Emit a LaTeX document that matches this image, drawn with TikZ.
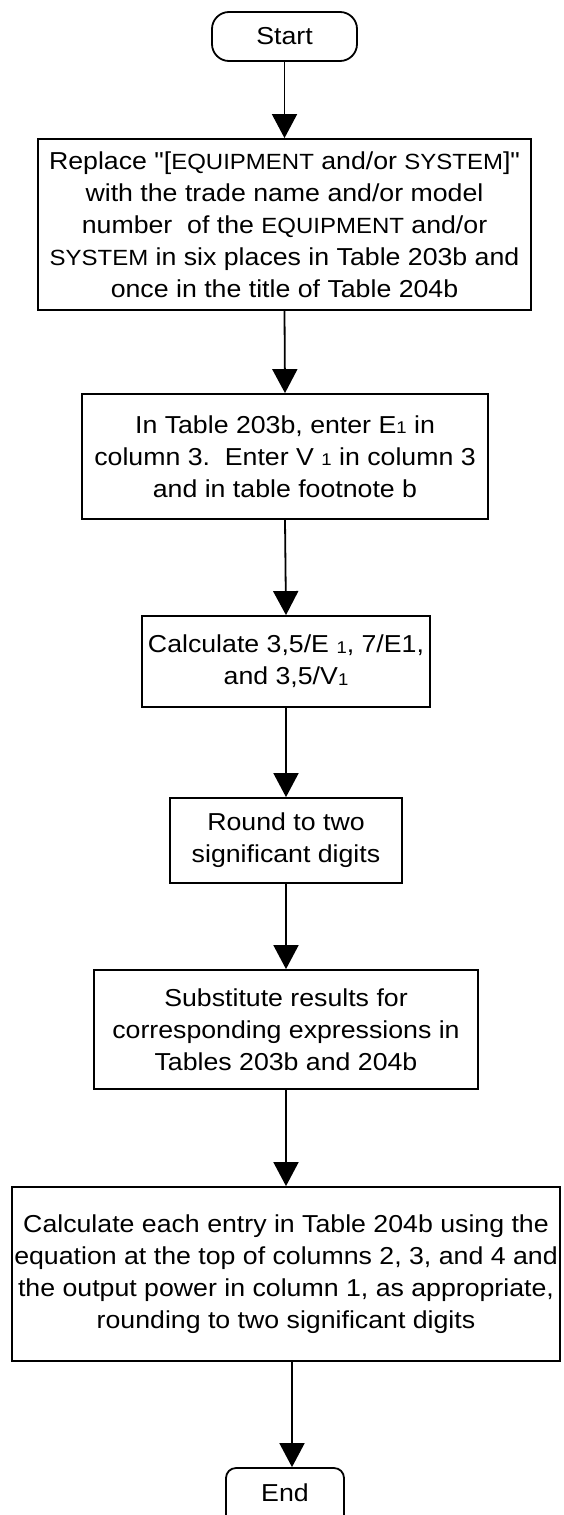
\documentclass[tikz,border=0pt]{standalone}
\usepackage{fontspec}
\setmainfont{Liberation Sans}[FakeStretch=1.09, Ligatures=TeXOff]
\usetikzlibrary{arrows.meta}
\newcommand{\eqsc}[1]{{\fontsize{22}{32}\selectfont #1}}
\newcommand{\subone}{\raisebox{-0.5pt}{\fontsize{17}{17}\selectfont 1}}
\tikzset{
  every node/.style={font=\fontsize{24.5}{32}\selectfont, align=center, inner sep=0pt},
  stepbox/.style={draw, line width=1.8pt, rectangle},
  termbox/.style={draw, line width=1.8pt, rectangle},
  arr/.style={line width=1.8pt, -{Triangle[width=25pt,length=24pt]}}
}
\begin{document}
\begin{tikzpicture}[x=1pt,y=1pt]
\useasboundingbox (0,0) rectangle (564,-1515);
\clip (0,0) rectangle (564,-1515);
\node[termbox, rounded corners=17pt, minimum width=145pt, minimum height=49pt] (start) at (284.5,-36.5) {Start};
\node[stepbox, minimum width=493pt, minimum height=171pt] (b1) at (284.5,-224.5)
  {Replace "[\eqsc{EQUIPMENT} and/or \eqsc{SYSTEM}]"\\ with the trade name and/or model\\ number\ \ of the \eqsc{EQUIPMENT} and/or\\ \eqsc{SYSTEM}\ in six places in Table 203b and\\ once in the title of Table 204b};
\node[stepbox, minimum width=406pt, minimum height=125pt] (b2) at (285,-456.5)
  {In Table 203b, enter E\subone\ in\\ column 3.\ \ Enter V\ \subone\ in column 3\\ and in table footnote b};
\node[stepbox, minimum width=288pt, minimum height=91pt] (b3) at (286,-661.5)
  {Calculate 3,5/E\ \subone, 7/E1,\\ and 3,5/V\subone};
\node[stepbox, minimum width=232pt, minimum height=85pt] (b4) at (286,-840.5)
  {Round to two\\ significant digits};
\node[stepbox, minimum width=384pt, minimum height=119pt] (b5) at (286,-1029.5)
  {Substitute results for\\ corresponding expressions in\\ Tables 203b and 204b};
\node[stepbox, minimum width=548pt, minimum height=174pt] (b6) at (286,-1274)
  {Calculate each entry in Table 204b using the\\ equation at the top of columns 2, 3, and 4 and\\ the output power in column 1, as appropriate,\\ rounding to two significant digits};
\node[termbox, rounded corners=10pt, minimum width=118pt, minimum height=64pt, text depth=0pt] (end) at (285,-1500) {\raisebox{14pt}{End}};
\draw[arr] (start.south) -- (b1.north);
\draw[arr] (b1.south) -- (b2.north);
\draw[arr] (b2.south) -- (b3.north);
\draw[arr] (b3.south) -- (b4.north);
\draw[arr] (b4.south) -- (b5.north);
\draw[arr] (b5.south) -- (b6.north);
\draw[arr] ([xshift=6pt]b6.south) -- ([xshift=7pt]end.north);
\end{tikzpicture}
\end{document}
